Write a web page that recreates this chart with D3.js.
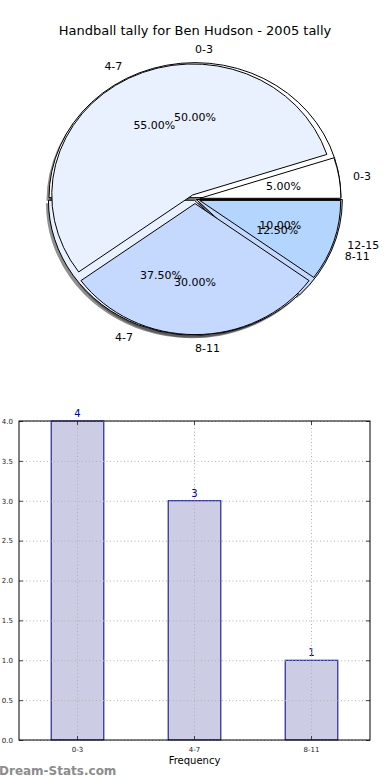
<!DOCTYPE html>
<html>
<head>
<meta charset="utf-8">
<script src="https://cdn.jsdelivr.net/npm/d3@7"></script>
<style>
  body { margin: 0; background: #fff; }
  svg { display: block; font-family: "DejaVu Sans", sans-serif; }
</style>
</head>
<body>
<script>
// pie 1: tally per range (same numbers as the bars)
const pieLabelsA = ['0-3', '4-7', '8-11'];
const pieValuesA = [4, 3, 1];
const pieColorsA = ['#ffffff', '#eaf1fe', '#c5d8fe'];

// pie 2: percentages drawn on top
const pieLabelsB = ['0-3', '4-7', '8-11', '12-15'];
const pieValuesB = [5, 55, 30, 10];
const pieColorsB = ['#ffffff', '#eaf1fe', '#c5d8fe', '#b4d5fe'];

// bars
const barCats = ['0-3', '4-7', '8-11'];
const barVals = [4, 3, 1];
const yTicks = [0, 0.5, 1, 1.5, 2, 2.5, 3, 3.5, 4];

const W = 390, H = 780;
const svg = d3.select('body').append('svg').attr('width', W).attr('height', H);

svg.append('text')
  .attr('x', 195).attr('y', 35)
  .attr('text-anchor', 'middle')
  .style('font-size', '13px')
  .text('Handball tally for Ben Hudson - 2005 tally');

//pies
const cx = 195, cy = 199;

const pieLayout = d3.pie().sort(null).startAngle(Math.PI / 2).endAngle(Math.PI / 2 - 2 * Math.PI);
const unitArc = d3.arc().innerRadius(0).outerRadius(1);

const pies = [
  { labels: pieLabelsA, values: pieValuesA, colors: pieColorsA, rx: 146, ry: 135, explode: 0.01 },
  { labels: pieLabelsB, values: pieValuesB, colors: pieColorsB, rx: 141, ry: 131, explode: 0.035 }
];

pies.forEach(p => {
  p.arcs = pieLayout(p.values).map((a, i) => {
    let mid = (a.startAngle + a.endAngle) / 2;
    return {
      arc: a, i: i, mid: mid,
      dx: p.explode * Math.sin(mid),
      dy: -p.explode * Math.cos(mid)
    };
  });
});

let pieG = svg.append('g');

// shadows first (under all wedges)
pies.forEach(p => {
  let g = pieG.append('g').attr('transform', `translate(${cx - 2.5}, ${cy + 3}) scale(${p.rx}, ${p.ry})`);
  g.selectAll('path').data(p.arcs).enter().append('path')
    .attr('d', d => unitArc(d.arc))
    .attr('transform', d => `translate(${d.dx}, ${d.dy})`)
    .attr('fill', '#333')
    .attr('fill-opacity', 0.55);
});

// wedges
pies.forEach(p => {
  let g = pieG.append('g').attr('transform', `translate(${cx}, ${cy}) scale(${p.rx}, ${p.ry})`);
  g.selectAll('path').data(p.arcs).enter().append('path')
    .attr('d', d => unitArc(d.arc))
    .attr('transform', d => `translate(${d.dx}, ${d.dy})`)
    .attr('fill', d => p.colors[d.i])
    .attr('stroke', '#000')
    .attr('stroke-width', 1)
    .attr('vector-effect', 'non-scaling-stroke');
});

// labels + percentages
pies.forEach(p => {
  let total = d3.sum(p.values);
  p.arcs.forEach(d => {
    let ox = cx + d.dx * p.rx, oy = cy + d.dy * p.ry;
    let s = Math.sin(d.mid), c = -Math.cos(d.mid);
    let lx = ox + 1.1 * p.rx * s, ly = oy + 1.1 * p.ry * c;
    pieG.append('text')
      .attr('x', lx).attr('y', ly)
      .attr('dy', '0.35em')
      .attr('text-anchor', s > -1e-9 ? 'start' : 'end')
      .style('font-size', '11px')
      .text(p.labels[d.i]);
    pieG.append('text')
      .attr('x', ox + 0.6 * p.rx * s).attr('y', oy + 0.6 * p.ry * c)
      .attr('dy', '0.35em')
      .attr('text-anchor', 'middle')
      .style('font-size', '11px')
      .text(d3.format('.2f')(p.values[d.i] / total * 100) + '%');
  });
});

//bar chart
const plotL = 19, plotR = 370, plotT = 421, plotB = 740;

const x = d3.scaleBand().domain(barCats).range([plotL, plotR]);
const y = d3.scaleLinear().domain([0, 4]).range([plotB, plotT]);
const barW = x.bandwidth() * 0.45;

let bars = svg.append('g');
bars.selectAll('rect').data(barVals).enter().append('rect')
  .attr('x', (d, i) => x(barCats[i]) + x.bandwidth() / 2 - barW / 2)
  .attr('y', d => y(d))
  .attr('width', barW)
  .attr('height', d => plotB - y(d))
  .attr('fill', '#ccccE5')
  .attr('stroke', '#000080')
  .attr('stroke-width', 1);

// grid
let grid = svg.append('g')
  .attr('stroke', '#b0b0b0')
  .attr('stroke-dasharray', '1,2.5')
  .attr('stroke-width', 1);
grid.selectAll('.gy').data(yTicks).enter().append('line')
  .attr('x1', plotL).attr('x2', plotR)
  .attr('y1', d => y(d) + 0.5).attr('y2', d => y(d) + 0.5);
grid.selectAll('.gx').data(barCats).enter().append('line')
  .attr('x1', d => x(d) + x.bandwidth() / 2).attr('x2', d => x(d) + x.bandwidth() / 2)
  .attr('y1', plotT).attr('y2', plotB);

// value labels
bars.selectAll('text').data(barVals).enter().append('text')
  .attr('x', (d, i) => x(barCats[i]) + x.bandwidth() / 2)
  .attr('y', d => y(d) - 4)
  .attr('text-anchor', 'middle')
  .attr('fill', '#000080')
  .style('font-size', '10px')
  .text(d => d);

// axes (ticks inward, frame)
let yAxis = d3.axisLeft(y).tickValues(yTicks).tickFormat(d3.format('.1f')).tickSizeInner(-4).tickSizeOuter(0).tickPadding(6);
let yg = svg.append('g').attr('transform', `translate(${plotL}, 0)`).call(yAxis);
let yAxisR = d3.axisRight(y).tickValues(yTicks).tickFormat('').tickSizeInner(-4).tickSizeOuter(0);
let yr = svg.append('g').attr('transform', `translate(${plotR}, 0)`).call(yAxisR);
let xAxis = d3.axisBottom(x).tickSizeInner(-4).tickSizeOuter(0).tickPadding(7);
let xg = svg.append('g').attr('transform', `translate(0, ${plotB})`).call(xAxis);
let xAxisT = d3.axisTop(x).tickFormat('').tickSizeInner(-4).tickSizeOuter(0);
let xt = svg.append('g').attr('transform', `translate(0, ${plotT})`).call(xAxisT);
[yg, yr, xg, xt].forEach(g => {
  g.selectAll('.domain').remove();
  g.selectAll('text').style('font-size', '7px').style('font-family', '"DejaVu Sans", sans-serif').attr('fill', '#222');
  g.selectAll('line').attr('stroke', '#444');
});

svg.append('rect')
  .attr('x', plotL).attr('y', plotT)
  .attr('width', plotR - plotL).attr('height', plotB - plotT)
  .attr('fill', 'none').attr('stroke', '#000').attr('stroke-width', 1);

svg.append('text')
  .attr('x', (plotL + plotR) / 2).attr('y', 764)
  .attr('text-anchor', 'middle')
  .style('font-size', '10px')
  .text('Frequency');

svg.append('text')
  .attr('x', -1).attr('y', 775)
  .attr('fill', '#8c8c8c')
  .style('font-size', '12px')
  .style('font-weight', 'bold')
  .text('Dream-Stats.com');
</script>
</body>
</html>
